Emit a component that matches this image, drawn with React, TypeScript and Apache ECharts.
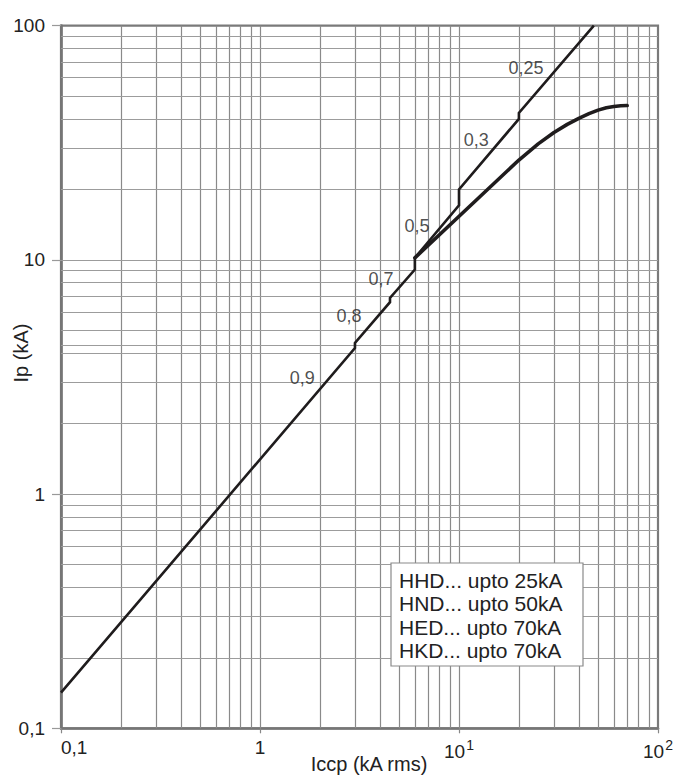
import React, { useEffect, useRef } from "react";
import * as echarts from "echarts";

// Prospective peak current line (with power-factor steps)
const upperLine: [number, number][] = [
  [0.1, 0.142], [3, 4.2], [3, 4.42], [4.5, 6.6], [4.5, 6.88], [6, 9.1], [6, 10.2],
  [10, 17.1], [10, 20], [20, 40], [20, 42.4], [47.6, 100],
];
// Limited peak current curve
const lowerCurve: [number, number][] = [
  [6, 10.2], [20, 26.7], [25, 31.3], [30, 35.0], [35, 37.9], [40, 40.2], [45, 42.1],
  [50, 43.6], [55, 44.6], [60, 45.2], [65, 45.5], [70, 45.6],
];
// Power-factor annotations
const pfLabels = ["0,9", "0,8", "0,7", "0,5", "0,3", "0,25"];
const pfLabelX = [1.63, 2.8, 4.06, 6.15, 12.2, 21.7];
const pfLabelY = [3.13, 5.78, 8.28, 13.9, 32.5, 65.9];

const legendLines = [
  "HHD... upto 25kA",
  "HND... upto 50kA",
  "HED... upto 70kA",
  "HKD... upto 70kA",
];

const decades = [0.1, 1, 10];
const multipliers = [1, 2, 3, 4, 5, 6, 7, 8, 9];
const extraYLines = [4.3];

const FONT = "Liberation Sans, Arial, Helvetica, sans-serif";

export default function App() {
  const ref = useRef<HTMLDivElement>(null);
  useEffect(() => {
    if (!ref.current) return;
    const chart = echarts.init(ref.current, null, { renderer: "svg" });
    const gridVals: number[] = [];
    decades.forEach((d) => multipliers.forEach((m) => gridVals.push(+(d * m).toPrecision(3))));
    const vLines = gridVals.filter((v) => v > 0.1).map((v) => ({ xAxis: v }));
    const hLines = gridVals
      .filter((v) => v > 0.1)
      .concat(extraYLines)
      .map((v) => ({ yAxis: v }));

    const xFmt = (v: number) => {
      const e = Math.round(Math.log10(v));
      if (e === -1) return "{b|0,1}";
      if (e === 0) return "{b|1}";
      return "{b|10}{s|" + e + "}";
    };
    const yFmt = (v: number) => {
      const e = Math.round(Math.log10(v));
      return ["0,1", "1", "10", "100"][e + 1];
    };

    chart.setOption({
      animation: false,
      textStyle: { fontFamily: FONT },
      grid: {
        left: 61,
        right: 16,
        top: 25.7,
        bottom: 49.7,
        containLabel: false,
        outerBoundsMode: "none",
        show: true,
        borderColor: "#7a7a7a",
        borderWidth: 2.2,
        backgroundColor: "#fff",
      },
      xAxis: {
        type: "log",
        logBase: 10,
        min: 0.1,
        max: 100,
        name: "Iccp (kA rms)",
        nameLocation: "middle",
        nameGap: 26,
        nameMoveOverlap: false,
        nameTextStyle: { fontSize: 20, color: "#222", fontFamily: FONT, padding: [0, 0, 0, 19] },
        axisLine: { show: true, lineStyle: { color: "#767676", width: 2.5 } },
        axisTick: { show: true, length: 5, lineStyle: { color: "#888", width: 1.2 } },
        axisLabel: {
          formatter: xFmt,
          margin: 10,
          alignMinLabel: "left",
          rich: {
            b: { fontSize: 19, color: "#222", fontFamily: FONT, verticalAlign: "bottom" },
            s: { fontSize: 14, color: "#222", fontFamily: FONT, verticalAlign: "bottom", padding: [0, 0, 9, 1] },
          },
        },
        splitLine: { show: false },
        minorTick: { show: false },
      },
      yAxis: {
        type: "log",
        logBase: 10,
        min: 0.1,
        max: 100,
        name: "Ip (kA)",
        nameLocation: "middle",
        nameGap: 30,
        nameRotate: 90,
        nameMoveOverlap: false,
        nameTextStyle: { fontSize: 20, color: "#222", fontFamily: FONT, padding: [0, 0, 0, 48] },
        axisLine: { show: true, lineStyle: { color: "#767676", width: 2.7 } },
        axisTick: { show: true, length: 9, lineStyle: { color: "#999", width: 1.2 } },
        axisLabel: {
          formatter: yFmt,
          margin: 16,
          fontSize: 19,
          color: "#222",
          fontFamily: FONT,
          padding: [0, 0, 8, 0],
        },
        splitLine: { show: false },
      },
      series: [
        {
          type: "line",
          data: [],
          silent: true,
          markLine: {
            silent: true,
            symbol: "none",
            z: 1,
            label: { show: false },
            lineStyle: { color: "#8a8a8a", width: 1.2, type: "solid" },
            data: vLines,
          },
        },
        {
          type: "line",
          data: [],
          silent: true,
          markLine: {
            silent: true,
            symbol: "none",
            z: 1,
            label: { show: false },
            lineStyle: { color: "#9c9c9c", width: 1.2, type: "solid" },
            data: hLines,
          },
        },
        {
          type: "line",
          data: upperLine,
          showSymbol: false,
          symbol: "none",
          z: 4,
          lineStyle: { color: "#1f1c1d", width: 2.6, join: "miter" },
        },
        {
          type: "line",
          data: lowerCurve,
          showSymbol: false,
          symbol: "none",
          smooth: false,
          z: 4,
          lineStyle: { color: "#1f1c1d", width: 3.6, join: "round", cap: "round" },
        },
        {
          type: "scatter",
          symbolSize: 0,
          z: 5,
          silent: true,
          data: pfLabels.map((t, i) => ({ name: t, value: [pfLabelX[i], pfLabelY[i]] })),
          label: {
            show: true,
            position: "inside",
            formatter: "{b}",
            fontSize: 18,
            color: "#222",
            fontFamily: FONT,
          },
        },
      ],
      graphic: [
        {
          type: "rect",
          z: 100,
          shape: { x: 391, y: 563, width: 192, height: 103 },
          style: { fill: "#ffffff", stroke: "#8a8a8a", lineWidth: 1.2 },
        },
        ...legendLines.map((t, i) => ({
          type: "text",
          z: 101,
          x: 399,
          y: [580.5, 603.5, 627.5, 650.5][i],
          style: {
            text: t,
            fontSize: 21,
            fontFamily: FONT,
            fill: "#222",
            verticalAlign: "middle",
            align: "left",
          },
        })),
      ],
    });
    return () => chart.dispose();
  }, []);
  return (
    <div
      ref={ref}
      style={{ position: "fixed", left: 0, top: 0, width: 674, height: 778, background: "#fff" }}
    />
  );
}
